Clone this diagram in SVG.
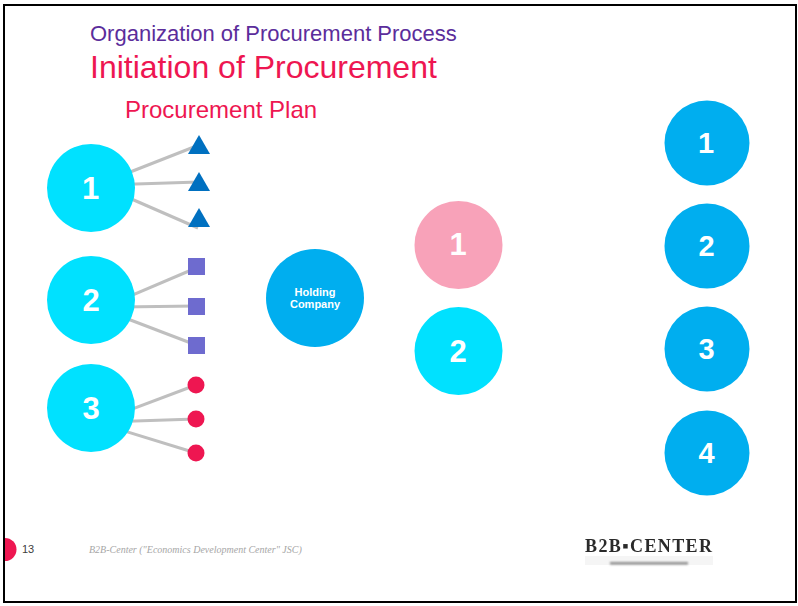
<svg xmlns="http://www.w3.org/2000/svg" width="798" height="606" viewBox="0 0 798 606">
<style>
text{font-family:"Liberation Sans",Arial,sans-serif}
.num{font-weight:bold;fill:#fff;text-anchor:middle}
.big{font-size:31px}
.mid{font-size:29px}
.cy{fill:#00E1FF}
.bl{fill:#00AEEF}
.tri{fill:#0070C0}
.sq{fill:#6E6BCF}
.dot{fill:#EE1651}
.lnk{stroke:#BFBFBF;stroke-width:3;fill:none}
</style>
<defs>
<filter id="soft" x="-5%" y="-30%" width="110%" height="160%"><feGaussianBlur stdDeviation="0.5"/></filter>
<filter id="soft2" x="-5%" y="-100%" width="110%" height="300%"><feGaussianBlur stdDeviation="0.8"/></filter>
</defs>
<rect width="798" height="606" fill="#fff"/>
<rect x="4" y="5" width="792" height="597" fill="none" stroke="#000" stroke-width="2"/>
<g id="titles">
<text x="90" y="41" font-size="22" fill="#5B2D9B">Organization of Procurement Process</text>
<text x="90" y="78" font-size="32" fill="#EE1651">Initiation of Procurement</text>
<text x="125" y="118" font-size="24" fill="#EE1651">Procurement Plan</text>
</g>
<g id="connectors">
<line class="lnk" x1="120" y1="176" x2="199" y2="145"/>
<line class="lnk" x1="120" y1="184.500" x2="199" y2="182"/>
<line class="lnk" x1="120" y1="194" x2="198" y2="228"/>
<line class="lnk" x1="120" y1="300.400" x2="196" y2="268"/>
<line class="lnk" x1="120" y1="307" x2="196" y2="306"/>
<line class="lnk" x1="120" y1="316" x2="196" y2="345"/>
<line class="lnk" x1="120" y1="413.700" x2="196" y2="385"/>
<line class="lnk" x1="120" y1="421.500" x2="196" y2="419"/>
<line class="lnk" x1="120" y1="429.600" x2="196" y2="453"/>
</g>
<g id="group-1"><circle class="cy" cx="91" cy="188" r="44"/><text class="num big" x="90.500" y="199">1</text></g>
<g id="group-2"><circle class="cy" cx="91" cy="300" r="44"/><text class="num big" x="91" y="311">2</text></g>
<g id="group-3"><circle class="cy" cx="91" cy="408" r="44"/><text class="num big" x="91" y="419">3</text></g>
<g id="tri-1"><polygon class="tri" points="199,135 210,154 188,154"/></g>
<g id="tri-2"><polygon class="tri" points="199,172 210,191 188,191"/></g>
<g id="tri-3"><polygon class="tri" points="199,208 210,227 188,227"/></g>
<g id="sq-1"><rect class="sq" x="188" y="258" width="17" height="17"/></g>
<g id="sq-2"><rect class="sq" x="188" y="298" width="17" height="17"/></g>
<g id="sq-3"><rect class="sq" x="188" y="337" width="17" height="17"/></g>
<g id="dot-1"><circle class="dot" cx="196" cy="385" r="8.500"/></g>
<g id="dot-2"><circle class="dot" cx="196" cy="419" r="8.500"/></g>
<g id="dot-3"><circle class="dot" cx="196" cy="453" r="8.500"/></g>
<g id="holding"><circle class="bl" cx="315" cy="298" r="49"/><text class="num" x="315" y="295.500" font-size="11">Holding</text><text class="num" x="315" y="308" font-size="11">Company</text></g>
<g id="mid-1"><circle fill="#F8A2B9" cx="458.500" cy="245" r="44"/><text class="num big" x="458" y="255">1</text></g>
<g id="mid-2"><circle class="cy" cx="458.500" cy="351" r="44"/><text class="num big" x="458" y="362">2</text></g>
<g id="right-1"><circle class="bl" cx="707" cy="143" r="42.500"/><text class="num mid" x="706" y="153">1</text></g>
<g id="right-2"><circle class="bl" cx="707" cy="246" r="42.500"/><text class="num mid" x="706.500" y="256">2</text></g>
<g id="right-3"><circle class="bl" cx="707" cy="349" r="42.500"/><text class="num mid" x="706.500" y="359">3</text></g>
<g id="right-4"><circle class="bl" cx="707" cy="453" r="42.500"/><text class="num mid" x="706.500" y="463">4</text></g>
<g id="footer">
<path d="M5,538 A11.500,11.500 0 0 1 5,561 Z" fill="#EE1651"/>
<text x="22" y="553" font-size="11" fill="#404040">13</text>
<text x="89" y="553" font-size="10" font-style="italic" fill="#A6A6A6" style="font-family:'Liberation Serif',serif">B2B-Center ("Economics Development Center" JSC)</text>
</g>
<g id="logo">
<rect x="585" y="556" width="128" height="9" fill="#F5F5F5"/>
<rect x="610" y="562" width="78" height="2.500" fill="#8A8A8A" filter="url(#soft2)"/>
<text x="585" y="551.500" font-size="18" font-weight="bold" fill="#2A2A2A" textLength="129" lengthAdjust="spacing" filter="url(#soft)" style="font-family:'Liberation Serif',serif;letter-spacing:2px">B2B▪CENTER</text>
</g>
</svg>
